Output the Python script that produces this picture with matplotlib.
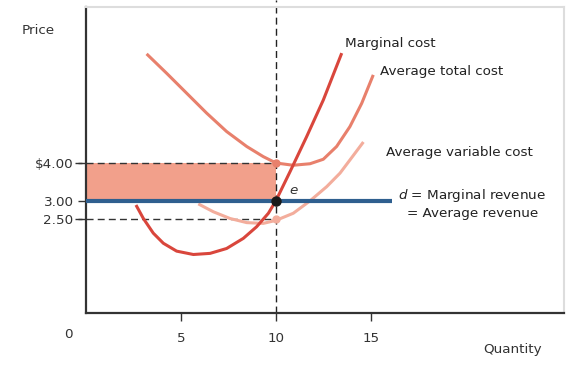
import numpy as np
import matplotlib.pyplot as plt

plt.rcParams['font.family'] = ['DejaVu Sans']
plt.rcParams['mathtext.fontset'] = 'dejavusans'

# curves (quantity, price)
mc_q = [2.63, 3.02, 3.54, 4.07, 4.77, 5.65, 6.53, 7.40, 8.28, 8.98, 9.60, 10.0, 10.74,
        11.61, 12.49, 13.46]
mc_p = [2.88, 2.52, 2.13, 1.86, 1.65, 1.56, 1.59, 1.72, 1.99, 2.30, 2.66, 3.0, 3.77,
        4.70, 5.68, 6.93]

atc_q = [3.19, 4.25, 5.30, 6.35, 7.40, 8.46, 9.33, 10.0, 10.9, 11.79, 12.49, 13.19,
         13.89, 14.51, 15.12]
atc_p = [6.91, 6.39, 5.86, 5.33, 4.84, 4.44, 4.17, 4.0, 3.94, 3.98, 4.10, 4.44,
         4.97, 5.59, 6.35]

avc_q = [5.91, 6.70, 7.58, 8.46, 9.33, 10.0, 10.91, 11.79, 12.67, 13.37, 13.89, 14.6]
avc_p = [2.91, 2.70, 2.52, 2.41, 2.39, 2.47, 2.66, 2.99, 3.37, 3.73, 4.08, 4.56]

price = 3.0
q_star = 10
atc_star = 4.0
avc_star = 2.5
mr_end = 16.1

y_ticks = [2.5, 3.0, 4.0]
y_labels = ["2.50", "3.00", "$4.00"]
x_ticks = [5, 10, 15]
x_labels = ["5", "10", "15"]

fig = plt.figure(figsize=(5.78, 3.73), dpi=100)
ax = fig.add_axes([86/578, 60/373, 478/578, 306/373])
ax.set_xlim(0, 478/19)
ax.set_ylim(0, 306/37.5)

# profit rectangle
ax.fill_between([0, q_star], price, atc_star, color='#f2a08b', lw=0, zorder=1)

dash = (0, (5, 3))
ax.plot([-0.6, q_star], [atc_star, atc_star], color='#333333', lw=1, ls=dash, clip_on=False, zorder=2)
ax.plot([-0.6, q_star], [avc_star, avc_star], color='#333333', lw=1, ls=dash, clip_on=False, zorder=2)
ax.axvline(q_star, ymin=0, ymax=313/306, color='#222222', lw=1, ls=dash, clip_on=False, zorder=2)

ax.plot(atc_q, atc_p, color='#e8806c', lw=2.2, solid_capstyle='butt', solid_joinstyle='round', zorder=3)
ax.plot(avc_q, avc_p, color='#f3ad9c', lw=2.2, solid_capstyle='butt', solid_joinstyle='round', zorder=3)
ax.plot([0, mr_end], [price, price], color='#2f5f8f', lw=3, solid_capstyle='butt', zorder=4)
ax.plot(mc_q, mc_p, color='#d9463c', lw=2.2, solid_capstyle='butt', solid_joinstyle='round', zorder=5)

ax.plot(q_star, atc_star, 'o', color='#e8806c', ms=5, zorder=6)
ax.plot(q_star, avc_star, 'o', color='#f3ad9c', ms=5, zorder=6)
ax.plot(q_star, price, 'o', color='#1a1a1a', ms=6.5, zorder=7)

fs = 9.7
ax.text(10.7, 3.28, 'e', style='italic', fontsize=fs, color='#333333', va='center')
ax.text(13.63, 7.2, 'Marginal cost', fontsize=fs, color='#222222', va='center')
ax.text(15.47, 6.45, 'Average total cost', fontsize=fs, color='#222222', va='center')
ax.text(15.79, 4.29, 'Average variable cost', fontsize=fs, color='#222222', va='center')
ax.text(16.42, 3.12, '$d$ = Marginal revenue', fontsize=fs, color='#222222', va='center')
ax.text(16.89, 2.64, '= Average revenue', fontsize=fs, color='#222222', va='center')

ax.set_yticks(y_ticks)
ax.set_yticklabels(y_labels)
ax.set_xticks(x_ticks)
ax.set_xticklabels(x_labels)
ax.tick_params(axis='both', direction='out', length=6, width=1, color='#333333',
               labelsize=fs, labelcolor='#333333')
ax.tick_params(axis='x', pad=8)
ax.tick_params(axis='y', pad=3)

for s in ['left', 'bottom']:
    ax.spines[s].set_color('#333333')
    ax.spines[s].set_linewidth(1.6)
for s in ['top', 'right']:
    ax.spines[s].set_color('#dddddd')
    ax.spines[s].set_linewidth(1.5)

fig.text(68/578, 1 - 335/373, '0', fontsize=fs, color='#333333', ha='center', va='center')
fig.text(22/578, 1 - 30/373, 'Price', fontsize=fs, color='#333333', va='center')
fig.text(483/578, 1 - 349/373, 'Quantity', fontsize=fs, color='#333333', va='center')

fig.savefig('out.png', dpi=100)
